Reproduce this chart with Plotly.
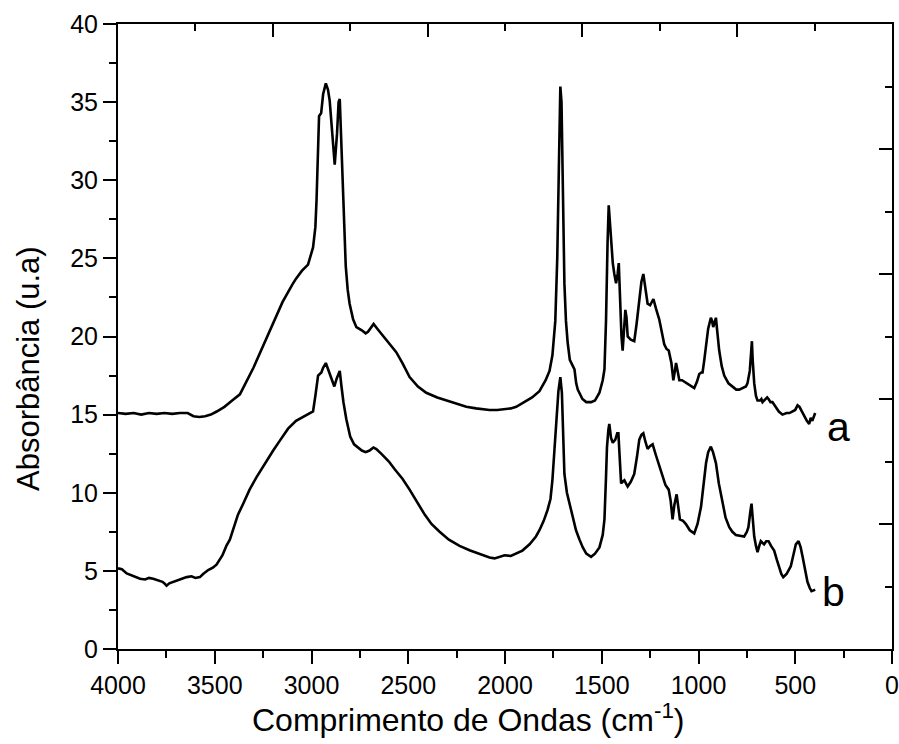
import plotly.graph_objects as go

# Spectrum a (upper)
a_x = [4000, 3960, 3920, 3880, 3840, 3800, 3760, 3720, 3680, 3640, 3610, 3580, 3550, 3520, 3490, 3450, 3410, 3370,
       3300, 3250, 3198, 3150, 3100, 3080, 3050, 3018, 2992, 2980, 2974, 2966, 2961, 2950, 2940, 2926, 2915, 2906,
       2893, 2880, 2868, 2860, 2854, 2848, 2840, 2832, 2823, 2813, 2803, 2785, 2768, 2740, 2720, 2708, 2690, 2679,
       2660, 2640, 2613, 2585, 2562, 2530, 2493, 2450, 2407, 2350, 2300, 2252, 2200, 2150, 2100, 2080, 2040, 2000,
       1970, 1942, 1900, 1860, 1822, 1790, 1770, 1755, 1740, 1730, 1722, 1714, 1708, 1702, 1697, 1693, 1685, 1676,
       1665, 1653, 1641, 1632, 1624, 1600, 1580, 1555, 1535, 1512, 1495, 1486, 1478, 1470, 1464, 1456, 1450, 1443,
       1435, 1426, 1418, 1412, 1407, 1404, 1398, 1392, 1384, 1378, 1372, 1366, 1350, 1332, 1320, 1306, 1295, 1285,
       1275, 1263, 1250, 1240, 1233, 1220, 1203, 1190, 1177, 1165, 1154, 1140, 1130, 1122, 1116, 1108, 1099, 1085,
       1073, 1050, 1022, 1008, 996, 985, 979, 970, 961, 950, 936, 930, 924, 917, 910, 902, 893, 880, 867, 845, 824,
       805, 790, 770, 755, 747, 735, 728, 724, 720, 716, 712, 703, 695, 682, 675, 669, 655, 645, 638, 628, 618, 600,
       585, 566, 545, 530, 514, 500, 488, 478, 470, 462, 450, 440, 428, 424, 420, 412, 405, 397]
a_y = [15.1, 15.05, 15.1, 15.0, 15.1, 15.05, 15.1, 15.05, 15.1, 15.1, 14.9, 14.85, 14.9, 15.0, 15.2, 15.5, 15.9, 16.3,
       18.0, 19.4, 20.8, 22.2, 23.3, 23.7, 24.2, 24.6, 25.7, 27.0, 28.7, 31.5, 34.1, 34.3, 35.5, 36.2, 35.8, 35.1,
       33.0, 31.0, 33.0, 35.0, 35.2, 33.0, 29.8, 27.0, 24.5, 23.0, 22.1, 21.1, 20.6, 20.4, 20.2, 20.3, 20.6, 20.8,
       20.5, 20.2, 19.8, 19.4, 19.0, 18.3, 17.4, 16.8, 16.4, 16.1, 15.9, 15.7, 15.5, 15.4, 15.3, 15.3, 15.3, 15.35,
       15.4, 15.5, 15.8, 16.1, 16.5, 17.2, 17.8, 18.8, 21.0, 25.0, 30.5, 36.0, 35.0, 30.0, 26.0, 23.4, 21.0, 19.6,
       18.5, 18.2, 17.9, 17.0, 16.6, 16.0, 15.8, 15.8, 15.9, 16.4, 17.2, 17.9, 21.0, 26.0, 28.4, 27.0, 25.5, 24.7,
       24.0, 23.4, 24.0, 24.7, 23.0, 21.3, 20.0, 19.1, 20.5, 21.7, 21.2, 20.0, 19.8, 19.7, 20.8, 22.5, 23.5, 24.0,
       23.2, 22.1, 22.0, 22.3, 22.4, 21.8, 21.1, 20.3, 19.5, 19.2, 19.1, 18.3, 17.2, 17.8, 18.3, 17.8, 17.2, 17.2,
       17.1, 16.9, 16.7, 17.1, 17.6, 17.7, 17.7, 18.5, 19.6, 20.5, 21.2, 21.0, 20.6, 20.9, 21.2, 20.2, 19.1, 18.1,
       17.5, 17.0, 16.8, 16.6, 16.6, 16.7, 16.8, 17.0, 17.8, 19.0, 19.7, 18.5, 17.2, 17.0, 16.2, 15.9, 15.9, 16.0,
       15.8, 16.0, 16.1, 16.0, 15.8, 15.8, 15.5, 15.2, 15.0, 15.1, 15.1, 15.2, 15.3, 15.6, 15.5, 15.3, 15.1, 14.8,
       14.6, 14.4, 14.7, 14.8, 14.6, 14.9, 15.1]

# Spectrum b (lower)
b_x = [4000, 3980, 3955, 3930, 3900, 3886, 3860, 3840, 3818, 3790, 3770, 3760, 3749, 3735, 3714, 3690, 3670, 3645,
       3620, 3600, 3577, 3560, 3534, 3510, 3491, 3460, 3440, 3422, 3400, 3380, 3353, 3320, 3284, 3240, 3198, 3160,
       3121, 3080, 3050, 3026, 2992, 2980, 2966, 2949, 2940, 2926, 2910, 2895, 2882, 2870, 2860, 2854, 2845, 2835,
       2820, 2800, 2780, 2760, 2740, 2720, 2700, 2680, 2665, 2640, 2600, 2570, 2530, 2493, 2450, 2415, 2380, 2338,
       2290, 2235, 2180, 2130, 2080, 2054, 2030, 2002, 1970, 1940, 1910, 1873, 1840, 1822, 1800, 1780, 1765, 1755,
       1745, 1734, 1724, 1714, 1706, 1700, 1693, 1680, 1667, 1650, 1633, 1615, 1598, 1580, 1555, 1535, 1512, 1495,
       1486, 1478, 1473, 1466, 1461, 1452, 1443, 1430, 1420, 1414, 1407, 1400, 1392, 1383, 1375, 1366, 1350, 1332,
       1318, 1306, 1295, 1285, 1275, 1263, 1250, 1237, 1220, 1203, 1185, 1171, 1154, 1144, 1134, 1125, 1113, 1105,
       1096, 1080, 1065, 1045, 1022, 1005, 987, 975, 961, 950, 936, 925, 910, 895, 876, 860, 841, 825, 807, 785, 764,
       750, 742, 732, 726, 720, 712, 703, 695, 686, 678, 670, 661, 650, 638, 625, 609, 595, 583, 572, 562, 545, 523,
       510, 497, 483, 472, 462, 450, 437, 425, 416, 405, 397]
b_y = [5.16, 5.1, 4.84, 4.7, 4.55, 4.5, 4.45, 4.55, 4.5, 4.4, 4.3, 4.2, 4.05, 4.2, 4.3, 4.45, 4.5, 4.6,
       4.65, 4.55, 4.6, 4.8, 5.05, 5.2, 5.4, 6.0, 6.6, 7.0, 7.9, 8.6, 9.3, 10.2, 11.0, 11.9, 12.7, 13.4,
       14.1, 14.6, 14.8, 15.0, 15.2, 16.2, 17.5, 17.7, 18.0, 18.3, 17.8, 17.2, 16.8, 17.3, 17.7, 17.8, 16.8, 15.8,
       14.7, 13.6, 13.1, 12.9, 12.7, 12.6, 12.7, 12.9, 12.8, 12.5, 12.0, 11.5, 10.9, 10.2, 9.3, 8.6, 8.0, 7.5,
       7.0, 6.6, 6.3, 6.1, 5.85, 5.8, 5.9, 6.0, 5.95, 6.1, 6.3, 6.7, 7.2, 7.6, 8.2, 8.9, 9.6, 10.8,
       12.5, 14.5, 16.5, 17.4, 16.4, 14.0, 11.2, 10.0, 9.3, 8.4, 7.6, 7.0, 6.5, 6.1, 5.9, 6.1, 6.5, 7.3,
       8.3, 11.0, 12.9, 14.0, 14.4, 13.5, 13.2, 13.4, 13.8, 13.8, 12.0, 10.6, 10.7, 10.8, 10.6, 10.4, 10.7, 11.2,
       12.3, 13.4, 13.7, 13.8, 13.3, 12.8, 13.0, 13.1, 12.4, 11.7, 11.0, 10.5, 10.2, 9.5, 8.3, 9.2, 9.9, 9.2,
       8.3, 8.2, 8.0, 7.6, 7.4, 8.0, 9.1, 10.4, 11.9, 12.6, 12.95, 12.6, 11.9, 10.6, 9.3, 8.4, 7.8, 7.5, 7.3, 7.25, 7.2,
       7.5, 7.8, 8.8, 9.3, 8.4, 7.2, 6.6, 6.2, 6.6, 6.9, 6.8, 6.7, 6.9, 6.9, 6.6, 6.3, 5.7, 5.2, 4.8, 4.6, 4.8, 5.3,
       6.0, 6.7, 6.9, 6.5, 5.9, 5.0, 4.3, 3.9, 3.7, 3.75, 3.8]

labels = ["a", "b"]
label_x = [275, 300]
label_y = [14.2, 3.65]

x_ticks = [4000, 3500, 3000, 2500, 2000, 1500, 1000, 500, 0]
y_ticks = [0, 5, 10, 15, 20, 25, 30, 35, 40]
top_ticks = [4000, 3200, 2400, 1600, 800, 0]
right_ticks = [0, 8, 16, 24, 32, 40]

FONT = "Liberation Sans, Arial, sans-serif"

fig = go.Figure()
fig.add_trace(go.Scatter(x=a_x, y=a_y, mode="lines", line=dict(color="black", width=2.6),
                         showlegend=False, hoverinfo="skip"))
fig.add_trace(go.Scatter(x=b_x, y=b_y, mode="lines", line=dict(color="black", width=2.6),
                         showlegend=False, hoverinfo="skip"))
fig.add_trace(go.Scatter(x=[None], y=[None], xaxis="x2", yaxis="y2", mode="lines",
                         showlegend=False, hoverinfo="skip"))

for t, lx, ly in zip(labels, label_x, label_y):
    fig.add_annotation(x=lx, y=ly, text=t, showarrow=False, xanchor="center", yanchor="middle",
                       font=dict(family=FONT, size=41, color="black"))

fig.add_annotation(xref="paper", yref="paper", x=(468 - 118) / 774, y=(744 - 95 - 718) / 625,
                   text="Comprimento de Ondas (cm<sup>-1</sup>)", showarrow=False,
                   xanchor="center", yanchor="middle", font=dict(family=FONT, size=32, color="black"))
fig.add_annotation(xref="paper", yref="paper", x=(28 - 118) / 774, y=(649 - 369) / 625,
                   text="Absorbância (u.a)", textangle=-90, showarrow=False,
                   xanchor="center", yanchor="middle", font=dict(family=FONT, size=31, color="black"))

axis_common = dict(showline=True, linewidth=2, linecolor="black", showgrid=False, zeroline=False,
                   automargin=False, tickcolor="black", tickwidth=2, ticklen=13,
                   tickfont=dict(family=FONT, size=25, color="black"))

fig.update_layout(
    width=899, height=744,
    margin=dict(l=118, r=7, t=24, b=95),
    paper_bgcolor="white", plot_bgcolor="white",
    xaxis=dict(range=[4000, 0], tickmode="array", tickvals=x_ticks, ticks="outside",
               ticklabeloverflow="allow",
               minor=dict(dtick=250, tick0=0, ticks="outside", ticklen=7, tickwidth=2, tickcolor="black"),
               **axis_common),
    yaxis=dict(range=[0, 40], tickmode="array", tickvals=y_ticks, ticks="outside",
               minor=dict(dtick=2.5, tick0=0, ticks="outside", ticklen=7, tickwidth=2, tickcolor="black"),
               **axis_common),
    xaxis2=dict(overlaying="x", side="top", range=[4000, 0], tickmode="array", tickvals=top_ticks,
                ticks="inside", showticklabels=False,
                minor=dict(dtick=400, tick0=0, ticks="inside", ticklen=7, tickwidth=2, tickcolor="black"),
                **axis_common),
    yaxis2=dict(overlaying="y", side="right", range=[0, 40], tickmode="array", tickvals=right_ticks,
                ticks="inside", showticklabels=False,
                minor=dict(dtick=4, tick0=0, ticks="inside", ticklen=7, tickwidth=2, tickcolor="black"),
                **axis_common),
)

fig.write_html("out.html")
